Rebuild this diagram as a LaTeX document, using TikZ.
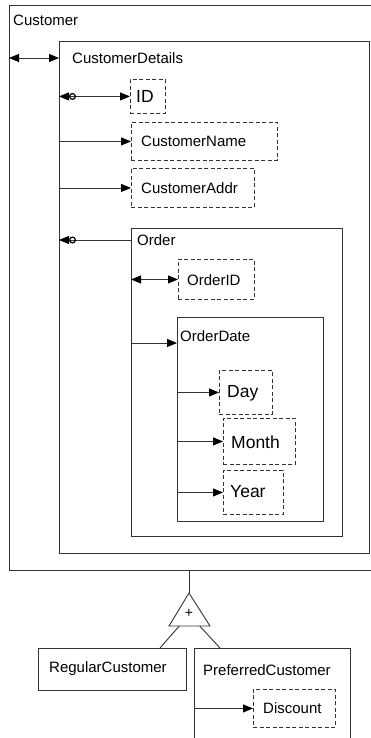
\documentclass[tikz,border=0pt]{standalone}
\usepackage{fontspec}
\setmainfont{Liberation Sans}
\usetikzlibrary{arrows.meta,calc}
\definecolor{ln}{HTML}{333333}
\begin{document}
\begin{tikzpicture}[x=1pt,y=-1pt,
  box/.style={draw=ln,line width=0.9pt,anchor=north west,inner sep=0pt},
  dbox/.style={box,dash pattern=on 4pt off 2.5pt},
  lbl/.style={anchor=west,inner sep=0pt,font=\fontsize{15}{17}\selectfont},
  blbl/.style={anchor=west,inner sep=0pt,font=\fontsize{17.5}{20}\selectfont},
  con/.style={draw=ln,line width=0.9pt},
  tip/.tip={Triangle[length=10pt,width=8pt,color=black]},
  otip/.tip={Circle[open,length=7pt,width=7pt,line width=1.2pt,color=black] Triangle[length=10pt,width=8pt,color=black]}
]
\useasboundingbox (0,0) rectangle (370,738);
\fill[white] (0,0) rectangle (370,738);
% boxes
\node[box,minimum width=366pt,minimum height=565pt] (cust) at (9,5) {};
\node[lbl] (cust-l) at (13,20) {Customer};
\node[box,minimum width=310pt,minimum height=512pt] (cd) at (59,41) {};
\node[lbl] (cd-l) at (72,58) {CustomerDetails};
\node[dbox,minimum width=35pt,minimum height=34pt] (id) at (130,79) {};
\node[blbl] (id-l) at (136,96) {ID};
\node[dbox,minimum width=146pt,minimum height=38pt] (cn) at (131,122) {};
\node[lbl] (cn-l) at (141,141) {CustomerName};
\node[dbox,minimum width=123pt,minimum height=39pt] (ca) at (131,168) {};
\node[lbl] (ca-l) at (141,188) {CustomerAddr};
\node[box,minimum width=211pt,minimum height=308pt] (ord) at (131,228) {};
\node[lbl] (ord-l) at (137,240) {Order};
\node[dbox,minimum width=76pt,minimum height=40pt] (oid) at (178,259) {};
\node[lbl] (oid-l) at (187,280) {OrderID};
\node[box,minimum width=146pt,minimum height=204pt] (od) at (177,317) {};
\node[lbl] (od-l) at (180,336) {OrderDate};
\node[dbox,minimum width=53pt,minimum height=44pt] (day) at (219,370) {};
\node[blbl] (day-l) at (227,393) {Day};
\node[dbox,minimum width=72pt,minimum height=46pt] (mon) at (223,418) {};
\node[blbl] (mon-l) at (231,442) {Month};
\node[dbox,minimum width=60pt,minimum height=44pt] (yr) at (223,470) {};
\node[blbl] (yr-l) at (230,492) {Year};
% generalisation
\coordinate (apex) at (189,593);
\coordinate (bl) at (169,626);
\coordinate (br) at (210,626);
\draw[con] (cust.south -| apex) -- (apex);
\draw[con,line join=miter] (apex) -- (br) -- (bl) -- cycle;
\node[inner sep=0pt,font=\fontsize{14}{16}\selectfont] (plus) at (189,613) {+};
\node[box,minimum width=148pt,minimum height=42pt] (rc) at (38,648) {};
\node[lbl] (rc-l) at (49,669) {RegularCustomer};
\node[box,minimum width=156pt,minimum height=100pt] (pc) at (194,648) {};
\node[lbl] (pc-l) at (203,670) {PreferredCustomer};
\node[dbox,minimum width=82pt,minimum height=38pt] (dis) at (253,689) {};
\node[lbl] (dis-l) at (263,708) {Discount};
\draw[con] ($(bl)!0.25!(br)$) -- (rc.north -| 160,0);
\draw[con] ($(bl)!0.75!(br)$) -- (pc.north -| 220,0);
% connectors
\draw[con,{tip}-{tip}] (cust.west |- cd-l) -- (cd.west |- cd-l);
\draw[con,{otip}-{tip}] (cd.west |- id.west) -- (id.west);
\draw[con,-{tip}] (cd.west |- cn.west) -- (cn.west);
\draw[con,-{tip}] (cd.west |- ca.west) -- (ca.west);
\draw[con,{otip}-] (cd.west |- ord-l) -- (ord.west |- ord-l);
\draw[con,{tip}-{tip}] (ord.west |- oid.west) -- (oid.west);
\draw[con,-{tip}] ([yshift=-26pt]od.north west -| ord.west) -- ([yshift=-26pt]od.north west);
\draw[con,-{tip}] (od.west |- day.west) -- (day.west);
\draw[con,-{tip}] (od.west |- mon.west) -- (mon.west);
\draw[con,-{tip}] (od.west |- yr.west) -- (yr.west);
\draw[con,-{tip}] (pc.west |- dis.west) -- (dis.west);
\end{tikzpicture}
\end{document}
